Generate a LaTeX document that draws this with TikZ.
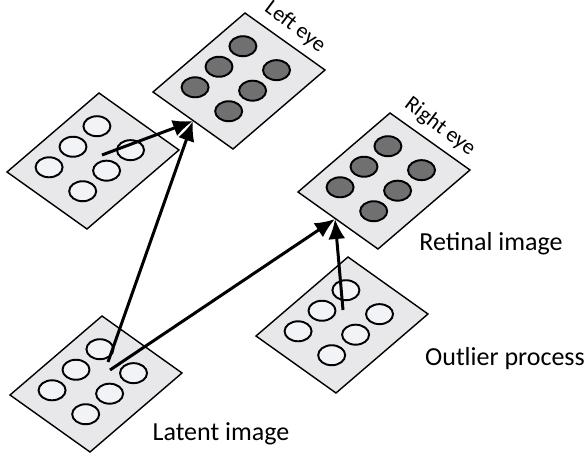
\documentclass[tikz,border=0pt]{standalone}
\usepackage{fontspec}
\setmainfont{Carlito}
\usetikzlibrary{calc,arrows.meta}
\definecolor{platefill}{RGB}{232,232,234}
\definecolor{holefill}{RGB}{241,243,246}
\definecolor{pupil}{RGB}{112,112,112}

\begin{document}
\begin{tikzpicture}[x=0.02cm, y=-0.02cm, >={Latex[length=4mm,width=3.4mm]},
    plate/.style={draw=black, line width=0.8pt, fill=platefill},
    hole/.style={draw=black, line width=1.1pt},
    link/.style={->, line width=1.7pt},
    label/.style={font=\fontsize{14.8}{17}\selectfont},
    eyelabel/.style={font=\fontsize{12.5}{14}\selectfont, rotate=-37, inner sep=1pt}]
				\useasboundingbox (0,0) rectangle (586,453);
				
				% Plates (left corner, then six holes each)
				\foreach \name/\px/\py/\col in {lefteye/153/92/pupil, side/7/172/holefill,
				  righteye/298/192/pupil, latentplate/10/395/holefill, outlierplate/256/336/holefill} {
				  \coordinate (\name) at (\px,\py);
				  \draw[plate] (\name) -- ++(92,-79) -- ++(80,57) -- ++(-92,79) -- cycle;
				  \foreach \su/\tv in {0.24/0.25, 0.5/0.25, 0.76/0.25, 0.24/0.67, 0.5/0.67, 0.76/0.67}
				    \draw[hole, fill=\col] ($(\name)+\su*(92,-79)+\tv*(80,57)$) ellipse [x radius=0.27cm, y radius=0.2cm];
				}
				
				% Arrow ends
				\coordinate (lefteye-in) at (193,121);
				\coordinate (righteye-in) at (335,219);
				\coordinate (side-out) at (102,155);
				\coordinate (latent-out1) at (108,362);
				\coordinate (latent-out2) at (110,370);
				\coordinate (outlier-out) at (343,310);
				
				% Arrows
				\draw[link] (side-out) -- (lefteye-in);
				\draw[link] (latent-out1) -- (lefteye-in);
				\draw[link] (latent-out2) -- (righteye-in);
				\draw[link] (outlier-out) -- (righteye-in);
				
				% Labels
				\node[eyelabel] (lefteye-lbl) at (295,27) {Left eye};
				\node[eyelabel] (righteye-lbl) at (440,127) {Right eye};
				\node[label] (retinal) at (491,244) {Retinal image};
				\node[label] (outlier) at (505,359) {Outlier process};
				\node[label] (latent) at (221,434) {Latent image};
\end{tikzpicture}
\end{document}
